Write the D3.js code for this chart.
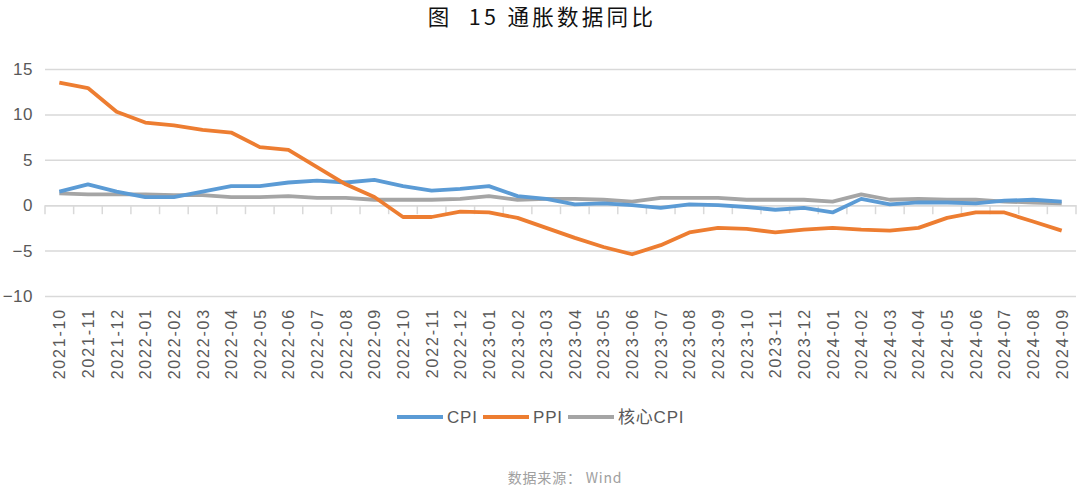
<!DOCTYPE html>
<html><head><meta charset="utf-8">
<script src="https://cdn.jsdelivr.net/npm/d3@7/dist/d3.min.js"></script>
<style>body{margin:0;background:#fff}</style>
</head><body><svg id="c" width="1080" height="491"></svg>
<script>
const months = ["2021-10","2021-11","2021-12","2022-01","2022-02","2022-03","2022-04","2022-05","2022-06","2022-07","2022-08","2022-09","2022-10","2022-11","2022-12","2023-01","2023-02","2023-03","2023-04","2023-05","2023-06","2023-07","2023-08","2023-09","2023-10","2023-11","2023-12","2024-01","2024-02","2024-03","2024-04","2024-05","2024-06","2024-07","2024-08","2024-09"];
const cpi = [1.5,2.3,1.5,0.9,0.9,1.5,2.1,2.1,2.5,2.7,2.5,2.8,2.1,1.6,1.8,2.1,1.0,0.7,0.1,0.2,0.0,-0.3,0.1,0.0,-0.2,-0.5,-0.3,-0.8,0.7,0.1,0.3,0.3,0.2,0.5,0.6,0.4];
const ppi = [13.5,12.9,10.3,9.1,8.8,8.3,8.0,6.4,6.1,4.2,2.3,0.9,-1.3,-1.3,-0.7,-0.8,-1.4,-2.5,-3.6,-4.6,-5.4,-4.4,-3.0,-2.5,-2.6,-3.0,-2.7,-2.5,-2.7,-2.8,-2.5,-1.4,-0.8,-0.8,-1.8,-2.8];
const core = [1.3,1.2,1.2,1.2,1.1,1.1,0.9,0.9,1.0,0.8,0.8,0.6,0.6,0.6,0.7,1.0,0.6,0.7,0.7,0.6,0.4,0.8,0.8,0.8,0.6,0.6,0.6,0.4,1.2,0.6,0.7,0.6,0.6,0.4,0.3,0.2];
const yTicks = [-10,-5,0,5,10,15];
const seriesNames = ["CPI","PPI","核心CPI"];
const colors = ["#5B9BD5","#ED7D31","#A5A5A5"];
const title = "图  15 通胀数据同比";
const source = "数据来源： Wind";

const svg = d3.select("#c");
const L = 45, R = 1076, T = 69, B = 296;
const x = d3.scaleBand().domain(months).range([L, R]);
const y = d3.scaleLinear().domain([-10, 15]).range([B, T]);
const font = "'Liberation Sans', Arial, 'Noto Sans CJK SC', sans-serif";

svg.append("text").attr("x", 542).attr("y", 25).attr("text-anchor", "middle")
  .attr("font-family", "'Noto Sans CJK SC', sans-serif").attr("font-size", 21.5)
  .attr("font-weight", 400).attr("letter-spacing", 3.3)
  .attr("fill", "#111").style("white-space", "pre").text(title);

// grid
const ya = svg.append("g").attr("transform", `translate(${L},0)`)
  .call(d3.axisLeft(y).tickValues(yTicks).tickSize(-(R - L)).tickPadding(12));
ya.select(".domain").remove();
ya.selectAll(".tick line").attr("stroke", "#d9d9d9").attr("stroke-width", 1.5);
ya.selectAll(".tick text").attr("font-family", font).attr("font-size", 17)
  .attr("letter-spacing", 0.5).attr("fill", "#595959");

// x axis at zero
const xa = svg.append("g").attr("transform", `translate(0,${y(0)})`)
  .call(d3.axisBottom(x).tickSize(0).tickFormat(""));
xa.select(".domain").attr("stroke", "#d9d9d9").attr("stroke-width", 1.5);
xa.selectAll(".tick").remove();
const bounds = months.map((m) => x(m)).concat([R]);
svg.append("g").selectAll("line").data(bounds).join("line")
  .attr("x1", d => d).attr("x2", d => d).attr("y1", y(0)).attr("y2", y(0) + 9)
  .attr("stroke", "#d9d9d9").attr("stroke-width", 1.5);

// x labels
svg.append("g").selectAll("text").data(months).join("text")
  .attr("transform", d => `translate(${x(d) + x.bandwidth() / 2 + 6},308) rotate(-90)`)
  .attr("text-anchor", "end").attr("font-family", font).attr("font-size", 16)
  .attr("letter-spacing", 1.8)
  .attr("fill", "#595959").text(d => d);

// lines
const data = [cpi, ppi, core];
const line = d3.line().x((d, i) => x(months[i]) + x.bandwidth() / 2).y(d => y(d));
[2, 0, 1].forEach(k => {
  svg.append("path").datum(data[k]).attr("d", line).attr("fill", "none")
    .attr("stroke", colors[k]).attr("stroke-width", 3.8).attr("stroke-linejoin", "round");
});

// legend
const lg = svg.append("g").attr("transform", "translate(397,417)");
const legX = [0, 86, 171];
seriesNames.forEach((n, i) => {
  const g = lg.append("g").attr("transform", `translate(${legX[i]},0)`);
  g.append("line").attr("x1", 0).attr("x2", 46).attr("y1", 0).attr("y2", 0)
    .attr("stroke", colors[i]).attr("stroke-width", 3.8);
  g.append("text").attr("x", 50).attr("y", 6).attr("font-family", font)
    .attr("font-size", 17).attr("letter-spacing", 0.8).attr("fill", "#595959").text(n);
});

svg.append("text").attr("x", 565).attr("y", 483).attr("text-anchor", "middle")
  .attr("font-family", "'Noto Sans CJK SC', sans-serif").attr("font-size", 14)
  .attr("letter-spacing", 0.8)
  .attr("fill", "#a0a0a0").text(source);
</script></body></html>
